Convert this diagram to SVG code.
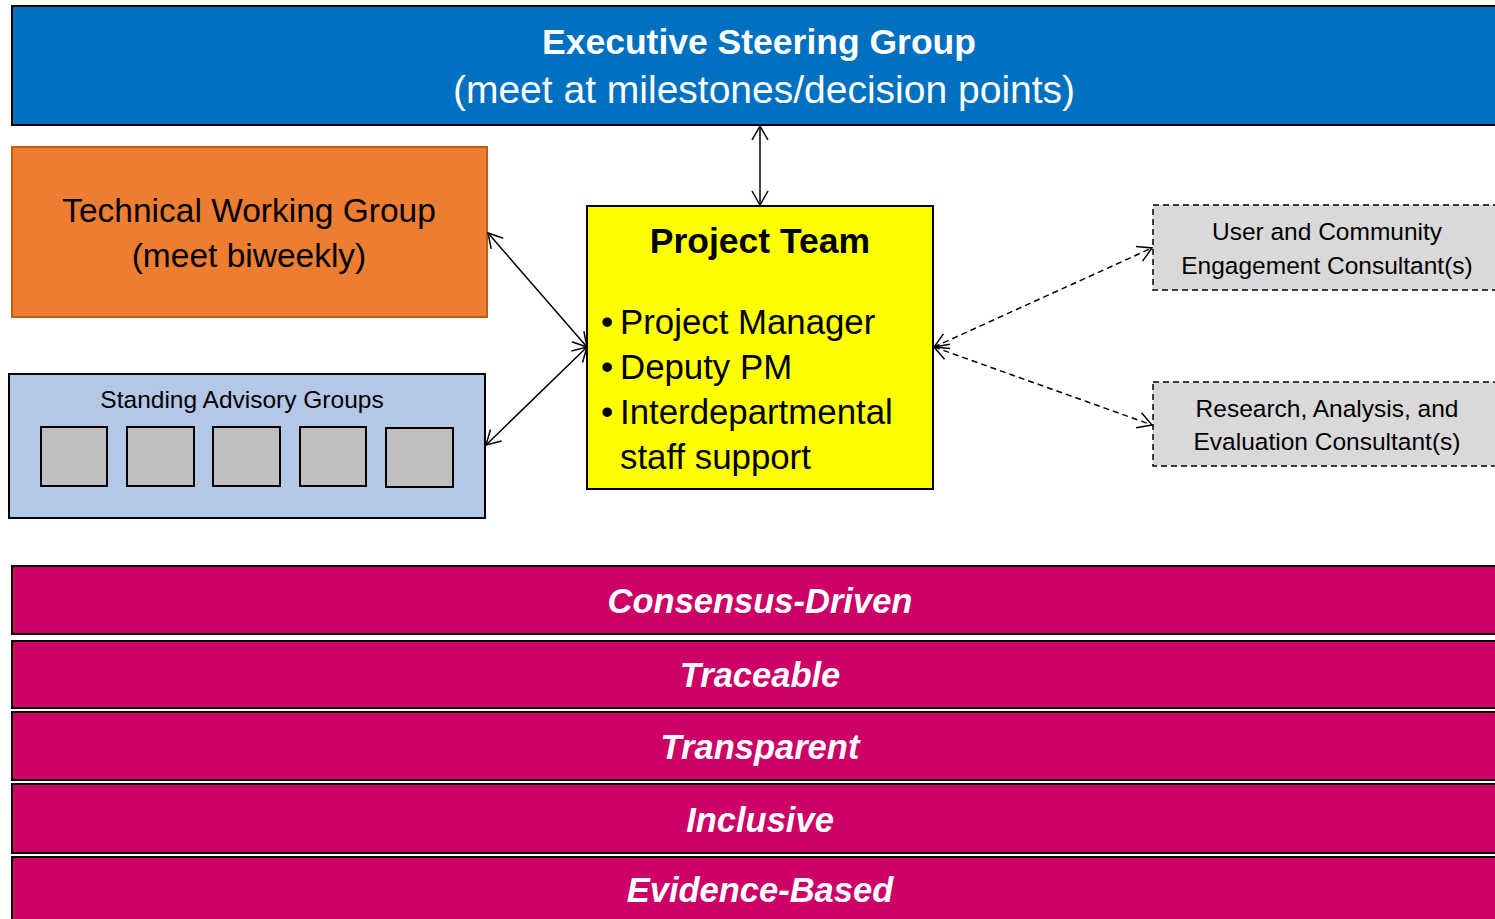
<svg xmlns="http://www.w3.org/2000/svg" width="1495" height="919" viewBox="0 0 1495 919">
  <defs>
    <marker id="arr" viewBox="0 0 16 18" refX="15" refY="9" markerWidth="16" markerHeight="18" markerUnits="userSpaceOnUse" orient="auto-start-reverse">
      <path d="M1,1 L15,9 L1,17" fill="none" stroke="#000" stroke-width="1.5"/>
    </marker>
    <style>
      text { font-family: "Liberation Sans", Arial, sans-serif; }
      .bar { fill: #CC0066; stroke: #000; stroke-width: 2; }
      .bartxt { fill: #fff; font-weight: bold; font-style: italic; font-size: 34.5px; text-anchor: middle; }
      .sq { fill: #BFBFBF; stroke: #000; stroke-width: 2; }
      .dash { fill: #D9D9D9; stroke: #000; stroke-width: 1.5; stroke-dasharray: 6 4; }
      .cons { font-size: 24.5px; fill: #000; text-anchor: middle; }
      .pt { font-size: 34.8px; fill: #000; }
      .conn { stroke: #000; stroke-width: 1.5; fill: none; marker-start: url(#arr); marker-end: url(#arr); }
      .dconn { stroke-dasharray: 6 4; }
    </style>
  </defs>
  <rect width="1495" height="919" fill="#fff"/>

  <g id="executive-steering-group">
    <rect x="12" y="6" width="1500" height="119" fill="#0070C0" stroke="#000" stroke-width="2"/>
    <text x="759" y="54" fill="#fff" font-weight="bold" font-size="35.5" text-anchor="middle">Executive Steering Group</text>
    <text x="764" y="103" fill="#fff" font-size="39" text-anchor="middle">(meet at milestones/decision points)</text>
  </g>

  <g id="technical-working-group">
    <rect x="12" y="147" width="475" height="170" fill="#ED7D31" stroke="#C55A11" stroke-width="2"/>
    <text x="249" y="222" font-size="33.5" text-anchor="middle" fill="#000">Technical Working Group</text>
    <text x="249" y="267" font-size="33.5" text-anchor="middle" fill="#000">(meet biweekly)</text>
  </g>

  <g id="standing-advisory-groups">
    <rect x="9" y="374" width="476" height="144" fill="#B4C7E7" stroke="#000" stroke-width="2"/>
    <text x="242" y="408" font-size="24.5" text-anchor="middle" fill="#000">Standing Advisory Groups</text>
    <rect class="sq" x="41" y="427" width="66" height="59"/>
    <rect class="sq" x="127" y="427" width="67" height="59"/>
    <rect class="sq" x="213" y="427" width="67" height="59"/>
    <rect class="sq" x="300" y="427" width="66" height="59"/>
    <rect class="sq" x="386" y="428" width="67" height="59"/>
  </g>

  <g id="project-team">
    <rect x="587" y="206" width="346" height="283" fill="#FFFF00" stroke="#000" stroke-width="2"/>
    <text x="760" y="253" font-weight="bold" font-size="35.5" text-anchor="middle" fill="#000">Project Team</text>
    <text class="pt" x="601" y="334">•</text><text class="pt" x="620" y="334">Project Manager</text>
    <text class="pt" x="601" y="379">•</text><text class="pt" x="620" y="379">Deputy PM</text>
    <text class="pt" x="601" y="424">•</text><text class="pt" x="620" y="424">Interdepartmental</text>
    <text class="pt" x="620" y="469">staff support</text>
  </g>

  <g id="user-community-consultants">
    <rect class="dash" x="1153" y="205" width="360" height="85"/>
    <text class="cons" x="1327" y="240">User and Community</text>
    <text class="cons" x="1327" y="274">Engagement Consultant(s)</text>
  </g>

  <g id="research-consultants">
    <rect class="dash" x="1153" y="382" width="360" height="84"/>
    <text class="cons" x="1327" y="417">Research, Analysis, and</text>
    <text class="cons" x="1327" y="450">Evaluation Consultant(s)</text>
  </g>

  <g id="connectors">
    <line class="conn" x1="760" y1="126" x2="760" y2="205"/>
    <line class="conn" x1="488" y1="233" x2="587" y2="347"/>
    <line class="conn" x1="486" y1="445" x2="587" y2="347"/>
    <line class="conn dconn" x1="934" y1="347" x2="1152" y2="248"/>
    <line class="conn dconn" x1="934" y1="347" x2="1152" y2="425"/>
  </g>

  <g id="principle-consensus">
    <rect class="bar" x="12" y="566" width="1500" height="68"/>
    <text class="bartxt" x="760" y="613">Consensus-Driven</text>
  </g>
  <g id="principle-traceable">
    <rect class="bar" x="12" y="641" width="1500" height="67"/>
    <text class="bartxt" x="760" y="687">Traceable</text>
  </g>
  <g id="principle-transparent">
    <rect class="bar" x="12" y="712" width="1500" height="68"/>
    <text class="bartxt" x="760" y="759">Transparent</text>
  </g>
  <g id="principle-inclusive">
    <rect class="bar" x="12" y="784" width="1500" height="69"/>
    <text class="bartxt" x="760" y="832">Inclusive</text>
  </g>
  <g id="principle-evidence">
    <rect class="bar" x="12" y="857" width="1500" height="80"/>
    <text class="bartxt" x="760" y="902">Evidence-Based</text>
  </g>
</svg>
